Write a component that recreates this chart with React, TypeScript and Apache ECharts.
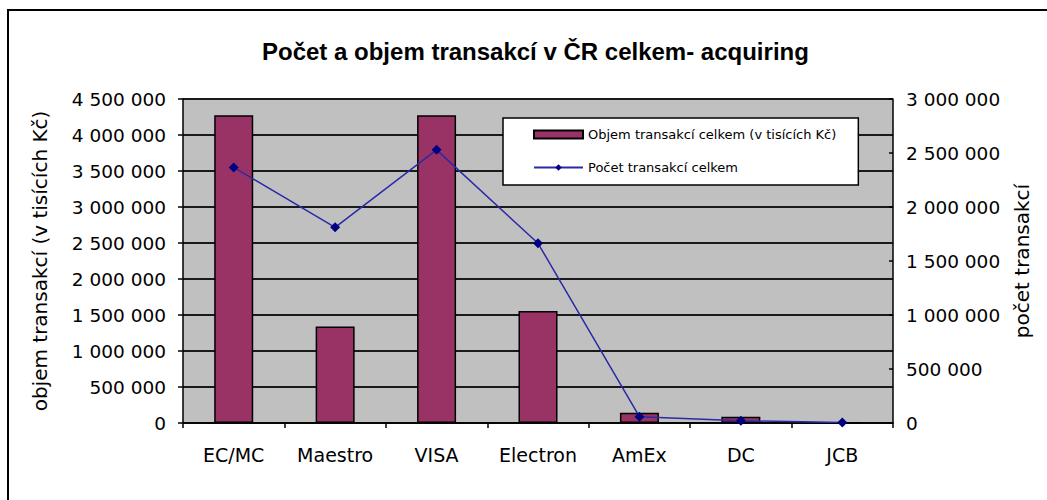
import React, { useEffect, useRef } from "react";
import * as echarts from "echarts";

const categories = ["EC/MC", "Maestro", "VISA", "Electron", "AmEx", "DC", "JCB"];
const volumeValues = [4275000, 1340000, 4275000, 1555000, 143000, 87000, 3000];
const countValues = [2366000, 1812000, 2529000, 1664000, 58000, 21000, 4000];
const leftTicks = { min: 0, max: 4500000, interval: 500000 };
const rightTicks = { min: 0, max: 3000000, interval: 500000 };

const titleText = "Počet a objem transakcí v ČR celkem- acquiring";
const volumeName = "Objem transakcí celkem (v tisících Kč)";
const countName = "Počet transakcí celkem";
const leftAxisName = "objem transakcí (v tisících Kč)";
const rightAxisName = "počet transakcí";

const TITLE_FONT = "'Liberation Sans', Arial, sans-serif";
const FONT = "'DejaVu Sans', Verdana, sans-serif";

const fmt = (v: number) => {
  const s = Math.round(v).toString();
  return s.replace(/\B(?=(\d{3})+(?!\d))/g, " ");
};

export default function App() {
  const ref = useRef<HTMLDivElement>(null);
  useEffect(() => {
    if (!ref.current) return;
    const chart = echarts.init(ref.current, undefined, { renderer: "svg" });
    chart.setOption({
      animation: false,
      backgroundColor: "#fff",
      textStyle: { fontFamily: FONT },
      title: {
        text: titleText,
        left: 257,
        top: 34,
        textStyle: { fontFamily: TITLE_FONT, fontSize: 24, fontWeight: "bold", color: "#000" },
      },
      legend: {
        orient: "vertical",
        left: 503,
        top: 118,
        itemWidth: 49,
        itemHeight: 8,
        itemGap: 20,
        padding: [10, 22, 11, 30],
        backgroundColor: "#fff",
        borderColor: "#000",
        borderWidth: 1.5,
        borderRadius: 0,
        textStyle: { fontFamily: FONT, fontSize: 13, color: "#000" },
        data: [
          { name: volumeName, icon: "rect" },
          { name: countName },
        ],
      },
      grid: { left: 183, right: 154, top: 99, bottom: 77, show: true, backgroundColor: "#c0c0c0", borderWidth: 0 },
      xAxis: {
        type: "category",
        data: categories,
        axisLine: { lineStyle: { color: "#000", width: 1.5 } },
        axisTick: { show: true, length: 5, lineStyle: { color: "#000", width: 1.5 } },
        axisLabel: { color: "#000", fontSize: 19, fontFamily: FONT, margin: 22 },
      },
      yAxis: [
        {
          type: "value",
          min: leftTicks.min,
          max: leftTicks.max,
          interval: leftTicks.interval,
          name: leftAxisName,
          nameLocation: "middle",
          nameGap: 133,
          nameTextStyle: { color: "#000", fontSize: 20, fontFamily: FONT },
          axisLine: { show: true, lineStyle: { color: "#000", width: 1.5 } },
          axisTick: { show: true, length: 5, lineStyle: { color: "#000", width: 1.5 } },
          axisLabel: { color: "#000", fontSize: 18.5, fontFamily: FONT, margin: 17, formatter: fmt },
          splitLine: { show: true, lineStyle: { color: "#1a1a1a", width: 2 } },
        },
        {
          type: "value",
          min: rightTicks.min,
          max: rightTicks.max,
          interval: rightTicks.interval,
          name: rightAxisName,
          nameLocation: "middle",
          nameGap: 119,
          nameRotate: 90,
          nameTextStyle: { color: "#000", fontSize: 20, fontFamily: FONT },
          axisLine: { show: true, lineStyle: { color: "#000", width: 1.5 } },
          axisTick: { show: true, inside: true, length: 4, lineStyle: { color: "#000", width: 1.5 } },
          axisLabel: { color: "#000", fontSize: 18.5, fontFamily: FONT, margin: 13, formatter: fmt },
          splitLine: { show: false },
        },
      ],
      series: [
        {
          name: volumeName,
          type: "bar",
          yAxisIndex: 0,
          data: volumeValues,
          barWidth: 39,
          itemStyle: { color: "#993366", borderColor: "#000", borderWidth: 1.5 },
        },
        {
          name: countName,
          type: "line",
          yAxisIndex: 1,
          data: countValues,
          symbol: "diamond",
          symbolSize: 10,
          lineStyle: { color: "#2a2aa8", width: 1.5 },
          itemStyle: { color: "#000080" },
        },
      ],
      graphic: [
        {
          type: "rect",
          shape: { x: 8, y: 10, width: 1100, height: 600 },
          style: { fill: "none", stroke: "#000", lineWidth: 2 },
          silent: true,
        },
      ],
    });
    return () => chart.dispose();
  }, []);
  return <div ref={ref} style={{ position: "absolute", left: 0, top: 0, width: 1047, height: 500 }} />;
}
